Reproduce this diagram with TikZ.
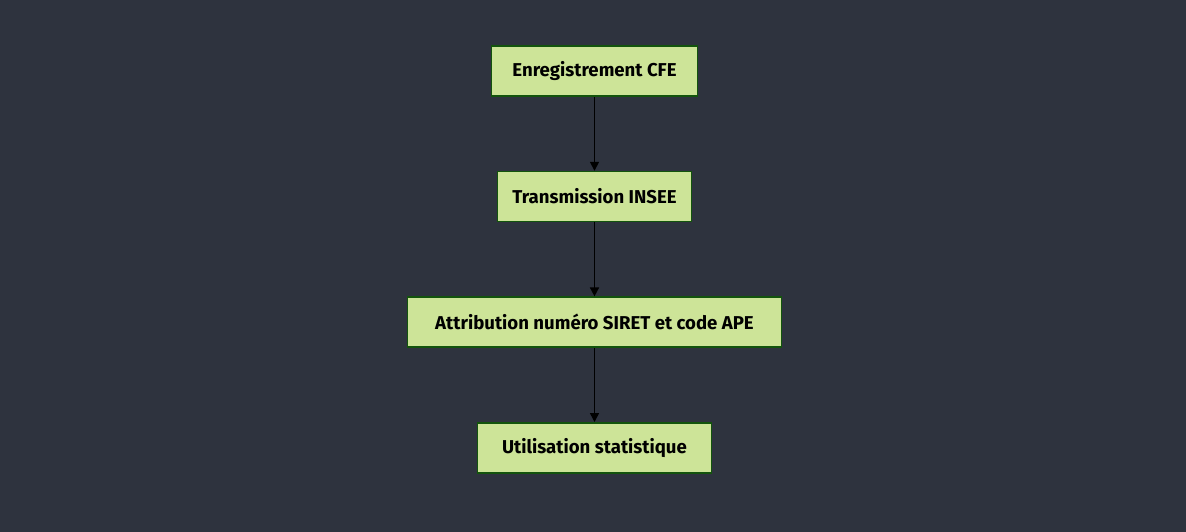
\documentclass[tikz,border=0pt]{standalone}
\usepackage{fontspec}
\setmainfont{Fira Sans}
\usetikzlibrary{positioning,arrows.meta}
\definecolor{fondsombre}{HTML}{2E333E}
\definecolor{vertclair}{HTML}{CDE498}
\definecolor{vertfonce}{HTML}{13540C}
\tikzset{
  etape/.style={draw=vertfonce, line width=1.6pt, fill=vertclair, minimum height=50pt,
    inner xsep=4pt, font=\fontsize{18.6}{22}\selectfont\bfseries, text=black},
  fleche/.style={-{Triangle[length=9pt,width=9pt]}, line width=1.6pt, black}
}
\begin{document}
\begin{tikzpicture}[x=1pt,y=1pt]
  \fill[fondsombre] (0,0) rectangle (1186,-532);
  \useasboundingbox (0,0) rectangle (1186,-532);
  \node[etape, minimum width=206pt] (cfe) at (594.5,-71) {Enregistrement CFE};
  \node[etape, minimum width=194pt, below=74pt of cfe] (insee) {Transmission INSEE};
  \node[etape, minimum width=374pt, below=74pt of insee] (siret) {Attribution numéro SIRET et code APE};
  \node[etape, minimum width=234pt, below=74pt of siret] (stat) {Utilisation statistique};
  \draw[fleche] (cfe) -- (insee);
  \draw[fleche] (insee) -- (siret);
  \draw[fleche] (siret) -- (stat);
\end{tikzpicture}
\end{document}
